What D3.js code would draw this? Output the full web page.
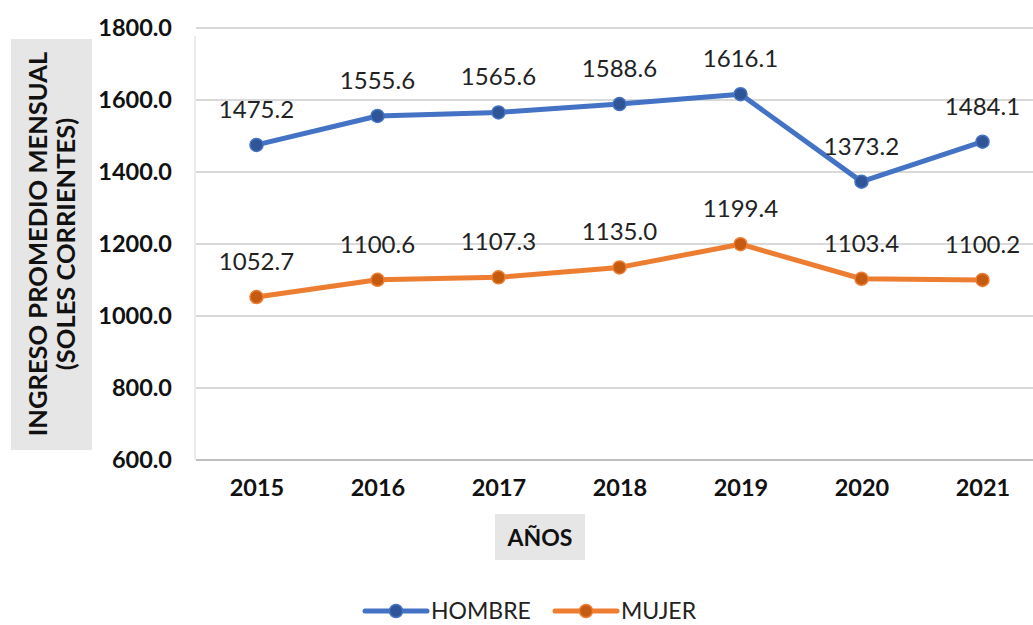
<!DOCTYPE html>
<html>
<head>
<meta charset="utf-8">
<script src="https://cdn.jsdelivr.net/npm/d3@7"></script>
<style>
  body { margin: 0; background: #fff; }
  svg text { font-family: Lato, "Open Sans", sans-serif; }
</style>
</head>
<body>
<div class="chart"></div>
<script>
// ingreso promedio mensual por sexo, 2015-2021
var years = ["2015", "2016", "2017", "2018", "2019", "2020", "2021"];
var hombre = [1475.2, 1555.6, 1565.6, 1588.6, 1616.1, 1373.2, 1484.1];
var mujer = [1052.7, 1100.6, 1107.3, 1135.0, 1199.4, 1103.4, 1100.2];
var yTicks = [600, 800, 1000, 1200, 1400, 1600, 1800];

var svgWidth = 1033;
var svgHeight = 625;

var svg = d3.select(".chart")
  .append("svg")
  .attr("width", svgWidth)
  .attr("height", svgHeight);

var x = d3.scalePoint().domain(years).range([196, 1043]).padding(0.5);
var y = d3.scaleLinear().domain([600, 1800]).range([460, 28]);

//shadow under the plot area bottom
var defs = svg.append("defs");
var f = defs.append("filter").attr("id", "shadow").attr("x", "-5%").attr("y", "-50%").attr("width", "110%").attr("height", "300%");
f.append("feGaussianBlur").attr("stdDeviation", 1.5);

svg.append("line")
  .attr("x1", 196).attr("x2", 1033).attr("y1", 462).attr("y2", 462)
  .attr("stroke", "#777").attr("stroke-width", 3).attr("filter", "url(#shadow)");
svg.append("line")
  .attr("x1", 195).attr("x2", 195).attr("y1", 36).attr("y2", 460)
  .attr("stroke", "#e6e6e6").attr("stroke-width", 1.5);

//gridlines
svg.append("g")
  .selectAll("line").data(yTicks).enter().append("line")
  .attr("x1", 196).attr("x2", 1033)
  .attr("y1", function(d) { return y(d); })
  .attr("y2", function(d) { return y(d); })
  .attr("stroke", function(d) { return d === 600 ? "#bfbfbf" : "#d9d9d9"; })
  .attr("stroke-width", 2);

//y axis labels
var leftAxis = d3.axisLeft(y).tickValues(yTicks).tickSize(0).tickPadding(0)
  .tickFormat(function(d) { return d3.format(".1f")(d); });
svg.append("g")
  .attr("transform", "translate(172,0)")
  .call(leftAxis)
  .call(function(g) { g.select(".domain").remove(); })
  .selectAll("text")
  .attr("font-family", "Lato")
  .attr("font-size", 23.5)
  .attr("font-weight", "bold")
  .attr("fill", "#111");

//x axis labels
var bottomAxis = d3.axisBottom(x).tickSize(0).tickPadding(0);
svg.append("g")
  .attr("transform", "translate(0,479)")
  .call(bottomAxis)
  .call(function(g) { g.select(".domain").remove(); })
  .selectAll("text")
  .attr("font-family", "Lato")
  .attr("font-size", 23.5)
  .attr("font-weight", "bold")
  .attr("fill", "#111");

//y axis title with grey box
svg.append("rect").attr("x", 11).attr("y", 39).attr("width", 81).attr("height", 411).attr("fill", "#e6e6e6");
var yTitle = svg.append("text")
  .attr("transform", "translate(52,244) rotate(-90)")
  .attr("text-anchor", "middle")
  .attr("font-size", 25.5)
  .attr("font-weight", "bold")
  .attr("fill", "#111");
yTitle.append("tspan").attr("x", 0).attr("dy", "-0.2em").text("INGRESO PROMEDIO MENSUAL");
yTitle.append("tspan").attr("x", 0).attr("dy", "1.1em").text("(SOLES CORRIENTES)");

//x axis title
svg.append("rect").attr("x", 495).attr("y", 514).attr("width", 90).attr("height", 46).attr("fill", "#e6e6e6");
svg.append("text")
  .attr("x", 540).attr("y", 546)
  .attr("text-anchor", "middle")
  .attr("font-size", 23)
  .attr("font-weight", "bold")
  .attr("fill", "#111")
  .text("AÑOS");

var series = [
  { name: "HOMBRE", values: hombre, color: "#4472C4", dark: "#2F5597" },
  { name: "MUJER", values: mujer, color: "#ED7D31", dark: "#C55A11" }
];

var line = d3.line()
  .x(function(d, i) { return x(years[i]); })
  .y(function(d) { return y(d); });

series.forEach(function(s) {
  svg.append("path")
    .datum(s.values)
    .attr("d", line)
    .attr("fill", "none")
    .attr("stroke", s.color)
    .attr("stroke-width", 5)
    .attr("stroke-linejoin", "round");

  svg.append("g")
    .selectAll("circle").data(s.values).enter().append("circle")
    .attr("cx", function(d, i) { return x(years[i]); })
    .attr("cy", function(d) { return y(d); })
    .attr("r", 6.5)
    .attr("fill", s.dark)
    .attr("stroke", s.color)
    .attr("stroke-width", 1.5);

  svg.append("g")
    .selectAll("text").data(s.values).enter().append("text")
    .attr("x", function(d, i) { return x(years[i]); })
    .attr("y", function(d) { return y(d) - 27; })
    .attr("text-anchor", "middle")
    .attr("font-size", 24)
    .attr("fill", "#222")
    .text(function(d) { return d3.format(".1f")(d); });
});

//legend
var legend = svg.append("g");
var legendX = [365, 555];
series.forEach(function(s, i) {
  var lx = legendX[i];
  legend.append("line")
    .attr("x1", lx).attr("x2", lx + 62).attr("y1", 611).attr("y2", 611)
    .attr("stroke", s.color).attr("stroke-width", 5).attr("stroke-linecap", "round");
  legend.append("circle")
    .attr("cx", lx + 31).attr("cy", 611).attr("r", 6.5)
    .attr("fill", s.dark).attr("stroke", s.color).attr("stroke-width", 1.5);
  legend.append("text")
    .attr("x", lx + 66).attr("y", 619)
    .attr("font-size", 23)
    .attr("fill", "#222")
    .text(s.name);
});
</script>
</body>
</html>
